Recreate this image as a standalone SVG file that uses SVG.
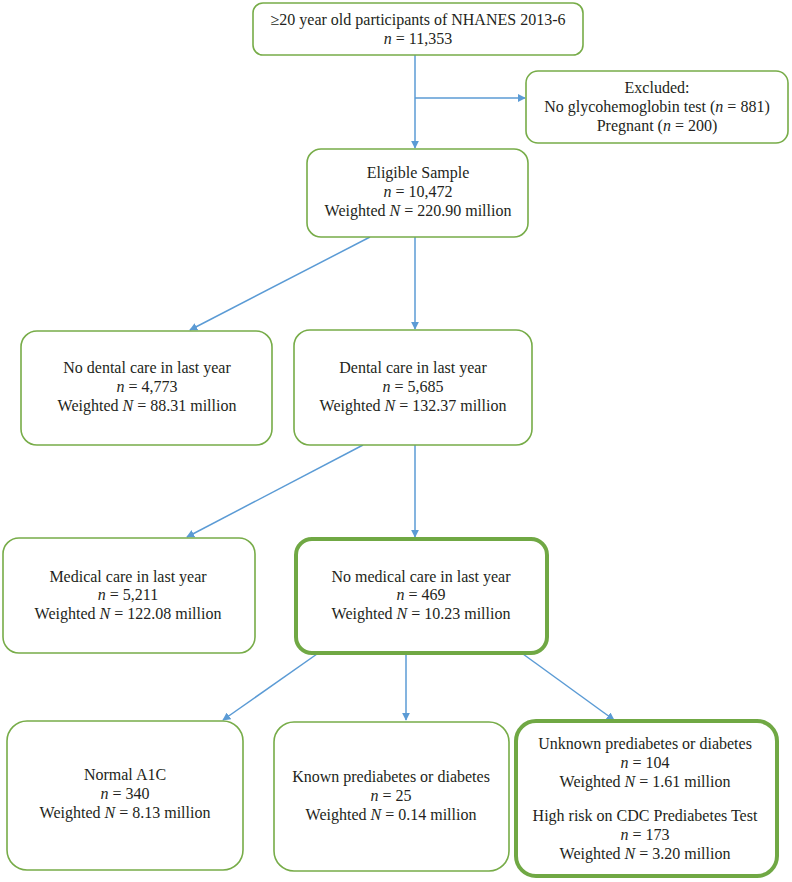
<svg xmlns="http://www.w3.org/2000/svg" width="792" height="882" viewBox="0 0 792 882">
<style>
.box{fill:#fff;stroke:#77ac48;stroke-width:1.6}
.thick{fill:#fff;stroke:#70a844;stroke-width:4}
.t{font-family:"Liberation Serif",serif;font-size:16px;fill:#231f20;text-anchor:middle}
.c{stroke:#5b9bd5;stroke-width:1.5;fill:none;marker-end:url(#ah)}
</style>
<defs>
<marker id="ah" viewBox="0 0 10 10" refX="9" refY="5" markerWidth="8" markerHeight="8" markerUnits="userSpaceOnUse" orient="auto">
<path d="M0,0 L10,5 L0,10 z" fill="#5b9bd5"/>
</marker>
</defs>
<rect width="792" height="882" fill="#fff"/>
<g id="connectors">
<path class="c" d="M415,55 L415,148"/>
<path class="c" d="M415,98 L525,98"/>
<path class="c" d="M370,237 L190,330"/>
<path class="c" d="M415,237 L415,329"/>
<path class="c" d="M363,445 L187,537"/>
<path class="c" d="M415,445 L415,537"/>
<path class="c" d="M317,654 L223,720"/>
<path class="c" d="M406,654 L406,720"/>
<path class="c" d="M523,654 L614,720"/>
</g>
<g id="n1">
<rect class="box" x="253" y="3" width="330" height="52" rx="10"/>
<text class="t" x="418" y="25">≥20 year old participants of NHANES 2013-6</text>
<text class="t" x="418" y="44"><tspan font-style="italic">n</tspan> = 11,353</text>
</g>
<g id="excluded">
<rect class="box" x="526" y="71" width="262" height="72" rx="12"/>
<text class="t" x="657" y="93">Excluded:</text>
<text class="t" x="657" y="112">No glycohemoglobin test (<tspan font-style="italic">n</tspan> = 881)</text>
<text class="t" x="657" y="131">Pregnant (<tspan font-style="italic">n</tspan> = 200)</text>
</g>
<g id="eligible">
<rect class="box" x="307" y="149" width="221" height="88" rx="14"/>
<text class="t" x="418" y="178">Eligible Sample</text>
<text class="t" x="418" y="197"><tspan font-style="italic">n</tspan> = 10,472</text>
<text class="t" x="418" y="216">Weighted <tspan font-style="italic">N</tspan> = 220.90 million</text>
</g>
<g id="nodental">
<rect class="box" x="21" y="331" width="251" height="114" rx="16"/>
<text class="t" x="147" y="373">No dental care in last year</text>
<text class="t" x="147" y="392"><tspan font-style="italic">n</tspan> = 4,773</text>
<text class="t" x="147" y="411">Weighted <tspan font-style="italic">N</tspan> = 88.31 million</text>
</g>
<g id="dental">
<rect class="box" x="294" y="330" width="238" height="115" rx="16"/>
<text class="t" x="413" y="373">Dental care in last year</text>
<text class="t" x="413" y="392"><tspan font-style="italic">n</tspan> = 5,685</text>
<text class="t" x="413" y="411">Weighted <tspan font-style="italic">N</tspan> = 132.37 million</text>
</g>
<g id="medical">
<rect class="box" x="3" y="538" width="252" height="115" rx="16"/>
<text class="t" x="128" y="582">Medical care in last year</text>
<text class="t" x="128" y="600"><tspan font-style="italic">n</tspan> = 5,211</text>
<text class="t" x="128" y="619">Weighted <tspan font-style="italic">N</tspan> = 122.08 million</text>
</g>
<g id="nomedical">
<rect class="thick" x="296" y="539" width="251" height="114" rx="16"/>
<text class="t" x="421" y="582">No medical care in last year</text>
<text class="t" x="421" y="600"><tspan font-style="italic">n</tspan> = 469</text>
<text class="t" x="421" y="619">Weighted <tspan font-style="italic">N</tspan> = 10.23 million</text>
</g>
<g id="normal">
<rect class="box" x="7" y="721" width="236" height="149" rx="20"/>
<text class="t" x="125" y="780">Normal A1C</text>
<text class="t" x="125" y="799"><tspan font-style="italic">n</tspan> = 340</text>
<text class="t" x="125" y="818">Weighted <tspan font-style="italic">N</tspan> = 8.13 million</text>
</g>
<g id="known">
<rect class="box" x="274" y="722" width="235" height="149" rx="20"/>
<text class="t" x="391" y="782">Known prediabetes or diabetes</text>
<text class="t" x="391" y="801"><tspan font-style="italic">n</tspan> = 25</text>
<text class="t" x="391" y="820">Weighted <tspan font-style="italic">N</tspan> = 0.14 million</text>
</g>
<g id="unknown">
<rect class="thick" x="516" y="721" width="261" height="155" rx="20"/>
<text class="t" x="645" y="749">Unknown prediabetes or diabetes</text>
<text class="t" x="645" y="768"><tspan font-style="italic">n</tspan> = 104</text>
<text class="t" x="645" y="787">Weighted <tspan font-style="italic">N</tspan> = 1.61 million</text>
<text class="t" x="645" y="821">High risk on CDC Prediabetes Test</text>
<text class="t" x="645" y="840"><tspan font-style="italic">n</tspan> = 173</text>
<text class="t" x="645" y="859">Weighted <tspan font-style="italic">N</tspan> = 3.20 million</text>
</g>
</svg>
